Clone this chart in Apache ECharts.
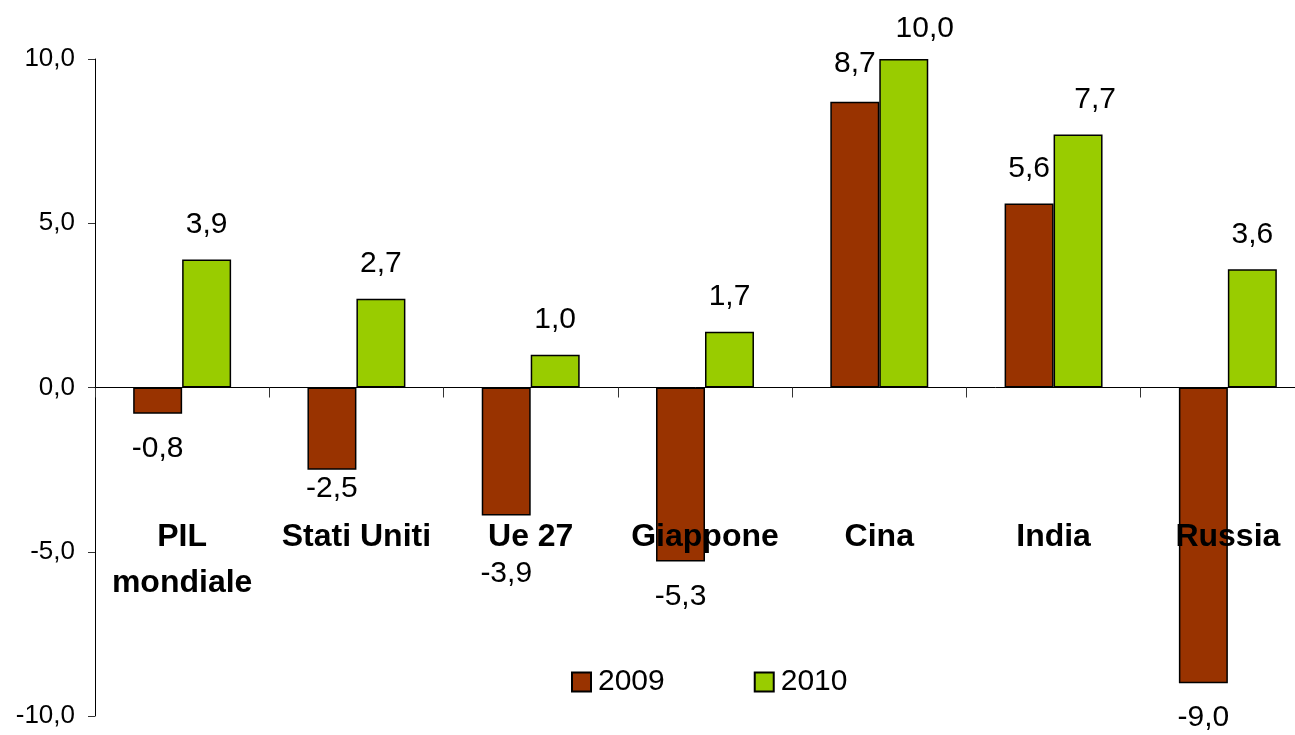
<!DOCTYPE html>
<html>
<head>
    <meta charset="utf-8">
    <script src="https://cdn.jsdelivr.net/npm/echarts@6/dist/echarts.min.js"></script>
    <style>
        html, body { margin: 0; padding: 0; background: #fff; }
        #pil { width: 1295px; height: 735px; }
    </style>
</head>
<body>
    <div id="pil"></div>
<script type="text/javascript">
    // dati
    var paesi = ['PIL\nmondiale', 'Stati Uniti', 'Ue 27', 'Giappone', 'Cina', 'India', 'Russia'];
    var anni = ['2009', '2010'];
    var v2009 = [-0.8, -2.5, -3.9, -5.3, 8.7, 5.6, -9.0];
    var v2010 = [3.9, 2.7, 1.0, 1.7, 10.0, 7.7, 3.6];
    var yTicks = [-10, -5, 0, 5, 10];

    // spostamenti manuali delle etichette (come nel grafico Excel)
    var spost2009 = {1: [0, -16], 2: [0, 23], 4: [0, -3]};
    var spost2010 = {4: [21, 5], 5: [17, 0]};

    var font = '"Liberation Sans", Arial, sans-serif';
    function virgola(v) { return Number(v).toFixed(1).replace('.', ','); }

    function punti(valori, spost) {
        return valori.map(function (v, i) {
            var p = {value: v};
            if (spost[i]) p.label = {offset: spost[i]};
            return p;
        });
    }

    var chart = echarts.init(document.getElementById('pil'));

    var etichetta = {
        show: true,
        position: 'outside',
        distance: 20,
        color: '#000',
        fontFamily: font,
        fontSize: 30,
        formatter: function (p) { return virgola(p.value); }
    };

    option = {
        animation: false,
        backgroundColor: '#fff',
        textStyle: {fontFamily: font},
        grid: {left: 95, top: 59, bottom: 19, width: 1220, containLabel: false, outerBoundsMode: 'none'},
        legend: {
            data: anni,
            left: 566,
            top: 662,
            itemWidth: 19,
            itemHeight: 19,
            itemGap: 89,
            icon: 'rect',
            textStyle: {fontFamily: font, fontSize: 30, color: '#000', padding: [0, 0, 0, 2]}
        },
        xAxis: {
            type: 'category',
            data: paesi,
            z: 5,
            axisLine: {onZero: true, lineStyle: {color: '#000', width: 1}},
            axisTick: {show: true, length: 10, lineStyle: {color: '#333'}},
            axisLabel: {
                margin: -202,
                interval: 0,
                color: '#000',
                fontFamily: font,
                fontWeight: 'bold',
                fontSize: 32,
                lineHeight: 46
            },
            splitLine: {show: false}
        },
        yAxis: {
            type: 'value',
            min: yTicks[0],
            max: yTicks[yTicks.length - 1],
            interval: 5,
            axisLine: {show: true, lineStyle: {color: '#000', width: 1}},
            axisTick: {show: true, length: 7, lineStyle: {color: '#333'}},
            axisLabel: {
                margin: 20,
                color: '#000',
                fontFamily: font,
                fontSize: 26,
                formatter: virgola
            },
            splitLine: {show: false}
        },
        series: [
            {
                name: anni[0],
                type: 'bar',
                data: punti(v2009, spost2009),
                barGap: '0%',
                barCategoryGap: '43.8%',
                itemStyle: {color: '#993300', borderColor: '#000', borderWidth: 1.5},
                label: etichetta
            },
            {
                name: anni[1],
                type: 'bar',
                data: punti(v2010, spost2010),
                barGap: '0%',
                barCategoryGap: '43.8%',
                itemStyle: {color: '#99CC00', borderColor: '#000', borderWidth: 1.5},
                label: etichetta
            }
        ]
    };

    chart.setOption(option);
</script>
</body>
</html>
